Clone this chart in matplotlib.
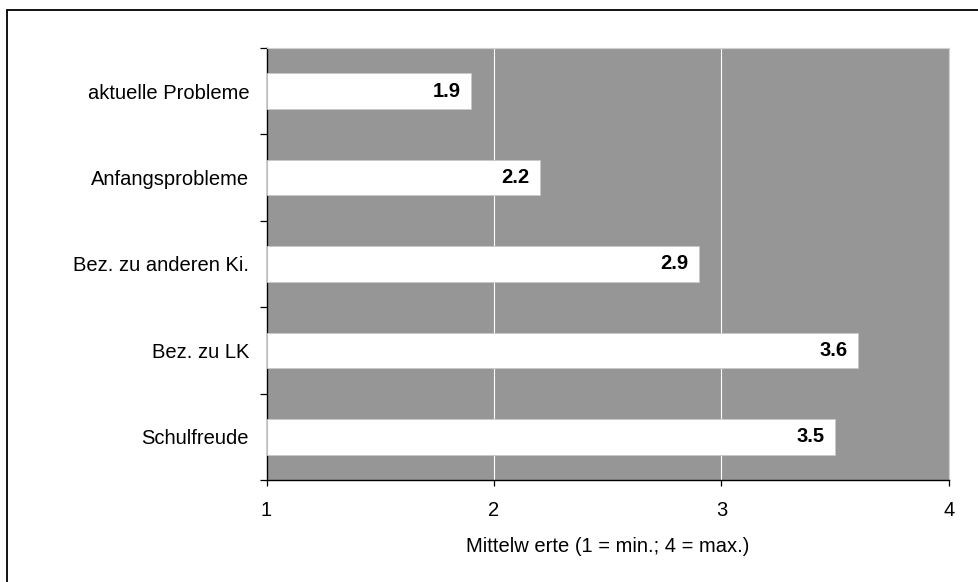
import matplotlib
matplotlib.use("Agg")
import matplotlib.pyplot as plt
from matplotlib.patches import Rectangle

plt.rcParams['font.family'] = ['Liberation Sans', 'DejaVu Sans']

categories = ["aktuelle Probleme", "Anfangsprobleme", "Bez. zu anderen Ki.",
              "Bez. zu LK", "Schulfreude"]
values = [1.9, 2.2, 2.9, 3.6, 3.5]
x_ticks = [1, 2, 3, 4]
x_label = "Mittelw erte (1 = min.; 4 = max.)"

FS = 14.5
W, H = 979, 582
fig = plt.figure(figsize=(W / 100, H / 100), dpi=100)

# outer chart frame (only top and left edges fall inside the image)
fig.patches.append(Rectangle((7 / W, -0.1), 1.2, 1 - 10 / H + 0.1,
                             transform=fig.transFigure, fill=False,
                             edgecolor='black', linewidth=1.3, zorder=0))

left, right, top, bottom = 266.5, 949, 48, 480
ax = fig.add_axes([left / W, 1 - bottom / H, (right - left) / W, (bottom - top) / H])
ax.set_facecolor('#969696')

pos = list(range(len(categories)))
ax.barh(pos, [v - x_ticks[0] for v in values], left=x_ticks[0], height=0.41,
        color='white', edgecolor='#c8c8c8', linewidth=0.6, zorder=3)

for p, v in zip(pos, values):
    ax.text(v - 0.045, p, f"{v:.1f}", ha='right', va='center',
            fontsize=FS, fontweight='bold', color='black', zorder=4)

ax.set_xlim(x_ticks[0], x_ticks[-1])
ax.set_ylim(len(categories) - 0.5, -0.5)

ax.set_xticks(x_ticks)
ax.set_xticklabels([str(t) for t in x_ticks], fontsize=FS)
ax.xaxis.grid(True, color='white', linewidth=0.8, zorder=1)
ax.set_axisbelow(True)

ax.set_yticks([i - 0.5 for i in range(len(categories) + 1)])
ax.set_yticklabels([])
ax.set_yticks(pos, minor=True)
ax.set_yticklabels(categories, minor=True, fontsize=FS)
ax.tick_params(axis='y', which='minor', length=0, pad=12.5)
ax.tick_params(axis='y', which='major', length=5, width=0.9, direction='out')
ax.tick_params(axis='x', length=4.5, width=0.9, direction='out', pad=10.5)

for side in ('top', 'right'):
    ax.spines[side].set_color('#d0d0d0')
    ax.spines[side].set_linewidth(0.8)
for side in ('left', 'bottom'):
    ax.spines[side].set_color('black')
    ax.spines[side].set_linewidth(1.0)

fig.text(((left + right) / 2) / W, 1 - 547 / H, x_label, ha='center', va='center',
         fontsize=FS)

fig.savefig("out.png", dpi=100)
